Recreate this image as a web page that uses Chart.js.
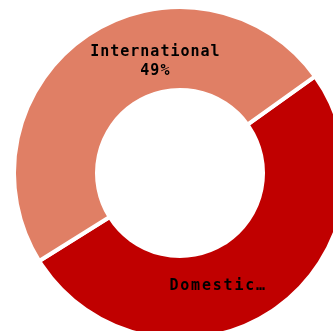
<!DOCTYPE html>
<html>
<head>
<meta charset="utf-8">
<script src="https://cdn.jsdelivr.net/npm/chart.js@4/dist/chart.umd.min.js"></script>
<style>
  html, body { margin: 0; padding: 0; background: #fff; overflow: hidden; width: 333px; height: 331px; }
  #wrap { position: absolute; left: 12px; top: 5px; width: 336px; height: 336px; }
</style>
</head>
<body>
<div id="wrap"><canvas id="c" width="336" height="336"></canvas></div>
<script>
// Share of trips by market
const categories = ['Domestic', 'International'];
const shares = [51, 49];
const sliceColors = ['#C00000', '#E07F65'];
const sliceLabels = ['Domestic\u2026', null]; // null -> name plus percent

const total = shares.reduce((a, b) => a + b, 0);

// Writes each slice's label on the ring
const ringLabels = {
  id: 'ringLabels',
  afterDatasetsDraw(chart) {
    const ctx = chart.ctx;
    const meta = chart.getDatasetMeta(0);
    ctx.save();
    ctx.fillStyle = '#000';
    ctx.font = 'bold 15px "DejaVu Sans Mono"';
    ctx.textAlign = 'center';
    ctx.textBaseline = 'middle';
    meta.data.forEach((arc, i) => {
      const p = arc.getProps(['x', 'y', 'startAngle', 'endAngle', 'innerRadius', 'outerRadius'], true);
      const mid = (p.startAngle + p.endAngle) / 2 + (i === 0 ? 0.25 : 0.37);
      const r = (p.innerRadius + p.outerRadius) / 2 - 7;
      const x = p.x + Math.cos(mid) * r;
      const y = p.y + Math.sin(mid) * r;
      if (sliceLabels[i]) {
        ctx.letterSpacing = '1.8px';
        ctx.fillText(sliceLabels[i], x - 1, y + 2);
      } else {
        const pct = Math.round(shares[i] / total * 100) + '%';
        ctx.letterSpacing = '1px';
        ctx.fillText(categories[i], x + 1, y - 6);
        ctx.fillText(pct, x + 1, y + 13);
      }
    });
    ctx.restore();
  }
};

new Chart(document.getElementById('c'), {
  type: 'doughnut',
  data: {
    labels: categories,
    datasets: [{
      data: shares,
      backgroundColor: sliceColors,
      borderColor: '#ffffff',
      borderWidth: 4,
      borderAlign: 'center'
    }]
  },
  options: {
    responsive: false,
    animation: false,
    cutout: '50%',
    rotation: 54.4,
    layout: { padding: 0 },
    plugins: {
      legend: { display: false },
      tooltip: { enabled: false }
    }
  },
  plugins: [ringLabels]
});
</script>
</body>
</html>
